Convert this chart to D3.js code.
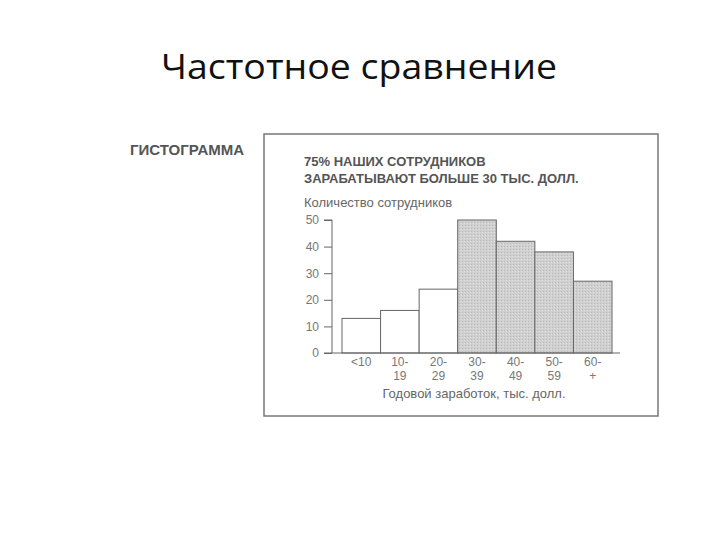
<!DOCTYPE html>
<html>
<head>
<meta charset="utf-8">
<script src="https://cdn.jsdelivr.net/npm/d3@7"></script>
<style>
  body { margin: 0; background: #fff; }
  text { font-family: "Liberation Sans", Arial, sans-serif; }
</style>
</head>
<body>
<svg id="chart"></svg>
<script>
const WIDTH = 720;
const HEIGHT = 540;

// data
const categories = ["<10", "10-19", "20-29", "30-39", "40-49", "50-59", "60-+"];
const tickLines = [["<10"], ["10-", "19"], ["20-", "29"], ["30-", "39"], ["40-", "49"], ["50-", "59"], ["60-", "+"]];
const counts = [13, 16, 24, 50, 42, 38, 27];
const highlighted = [false, false, false, true, true, true, true];
const yTicks = [0, 10, 20, 30, 40, 50];

const svg = d3.select('#chart')
  .attr('width', WIDTH)
  .attr('height', HEIGHT);

// dotted gray fill like the scanned print
const defs = svg.append('defs');
const pat = defs.append('pattern')
  .attr('id', 'dots')
  .attr('width', 3).attr('height', 3)
  .attr('patternUnits', 'userSpaceOnUse');
pat.append('rect').attr('width', 3).attr('height', 3).attr('fill', '#d0d0d0');
pat.append('rect').attr('x', 0).attr('y', 0).attr('width', 1).attr('height', 1).attr('fill', '#b8b8b8');
pat.append('rect').attr('x', 2).attr('y', 1).attr('width', 1).attr('height', 1).attr('fill', '#e0e0e0');

// slide title
svg.append('text')
  .attr('x', 161).attr('y', 79)
  .attr('textLength', 396)
  .attr('lengthAdjust', 'spacingAndGlyphs')
  .style('font-family', '"Open Sans", sans-serif')
  .style('font-size', '35px')
  .attr('fill', '#111')
  .text('Частотное сравнение');

svg.append('text')
  .attr('x', 130).attr('y', 155)
  .style('font-size', '15px').style('font-weight', 'bold')
  .attr('fill', '#555')
  .text('ГИСТОГРАММА');

// frame
svg.append('rect')
  .attr('x', 264).attr('y', 134)
  .attr('width', 394).attr('height', 282)
  .attr('fill', 'none')
  .attr('stroke', '#777')
  .attr('stroke-width', 1.5);

svg.append('text')
  .attr('x', 304).attr('y', 166)
  .style('font-size', '13px').style('font-weight', 'bold')
  .attr('fill', '#555')
  .text('75% НАШИХ СОТРУДНИКОВ');
svg.append('text')
  .attr('x', 304).attr('y', 183)
  .style('font-size', '13px').style('font-weight', 'bold')
  .attr('fill', '#555')
  .text('ЗАРАБАТЫВАЮТ БОЛЬШЕ 30 ТЫС. ДОЛЛ.');

svg.append('text')
  .attr('x', 304).attr('y', 207)
  .style('font-size', '13px')
  .attr('fill', '#666')
  .text('Количество сотрудников');

// scales
const x = d3.scaleBand()
  .domain(categories)
  .range([342, 612])
  .paddingInner(0).paddingOuter(0);

const y = d3.scaleLinear()
  .domain([0, 50])
  .range([353, 220]);

// bars
svg.append('g')
  .selectAll('rect')
  .data(counts)
  .enter()
  .append('rect')
  .attr('x', (d, i) => x(categories[i]))
  .attr('y', d => y(d))
  .attr('width', x.bandwidth())
  .attr('height', d => y(0) - y(d))
  .attr('fill', (d, i) => highlighted[i] ? 'url(#dots)' : 'white')
  .attr('stroke', '#666')
  .attr('stroke-width', 1);

// y axis
const yAxis = svg.append('g')
  .attr('transform', 'translate(332,0)')
  .call(d3.axisLeft(y).tickValues(yTicks).tickSize(8).tickPadding(5));
yAxis.select('.domain').attr('d', 'M-8,' + y(0) + 'H0V' + y(50) + 'H-8').attr('stroke', '#666');
yAxis.selectAll('line').attr('stroke', '#666');
yAxis.selectAll('text').style('font-size', '12px').attr('fill', '#777')
  .style('font-family', '"Liberation Sans", Arial, sans-serif');

// x axis baseline
svg.append('line')
  .attr('x1', 332).attr('x2', 620)
  .attr('y1', y(0)).attr('y2', y(0))
  .attr('stroke', '#666');

// x tick labels
const xl = svg.append('g')
  .selectAll('text')
  .data(tickLines)
  .enter()
  .append('text')
  .attr('text-anchor', 'middle')
  .style('font-size', '12px')
  .attr('fill', '#777')
  .attr('transform', (d, i) => 'translate(' + (x(categories[i]) + x.bandwidth() / 2) + ',366)');
xl.selectAll('tspan')
  .data(d => d)
  .enter()
  .append('tspan')
  .attr('x', 0)
  .attr('dy', (d, j) => j === 0 ? 0 : 14)
  .text(d => d);

svg.append('text')
  .attr('x', 474).attr('y', 398)
  .attr('text-anchor', 'middle')
  .style('font-size', '13px')
  .attr('fill', '#666')
  .text('Годовой заработок, тыс. долл.');
</script>
</body>
</html>
